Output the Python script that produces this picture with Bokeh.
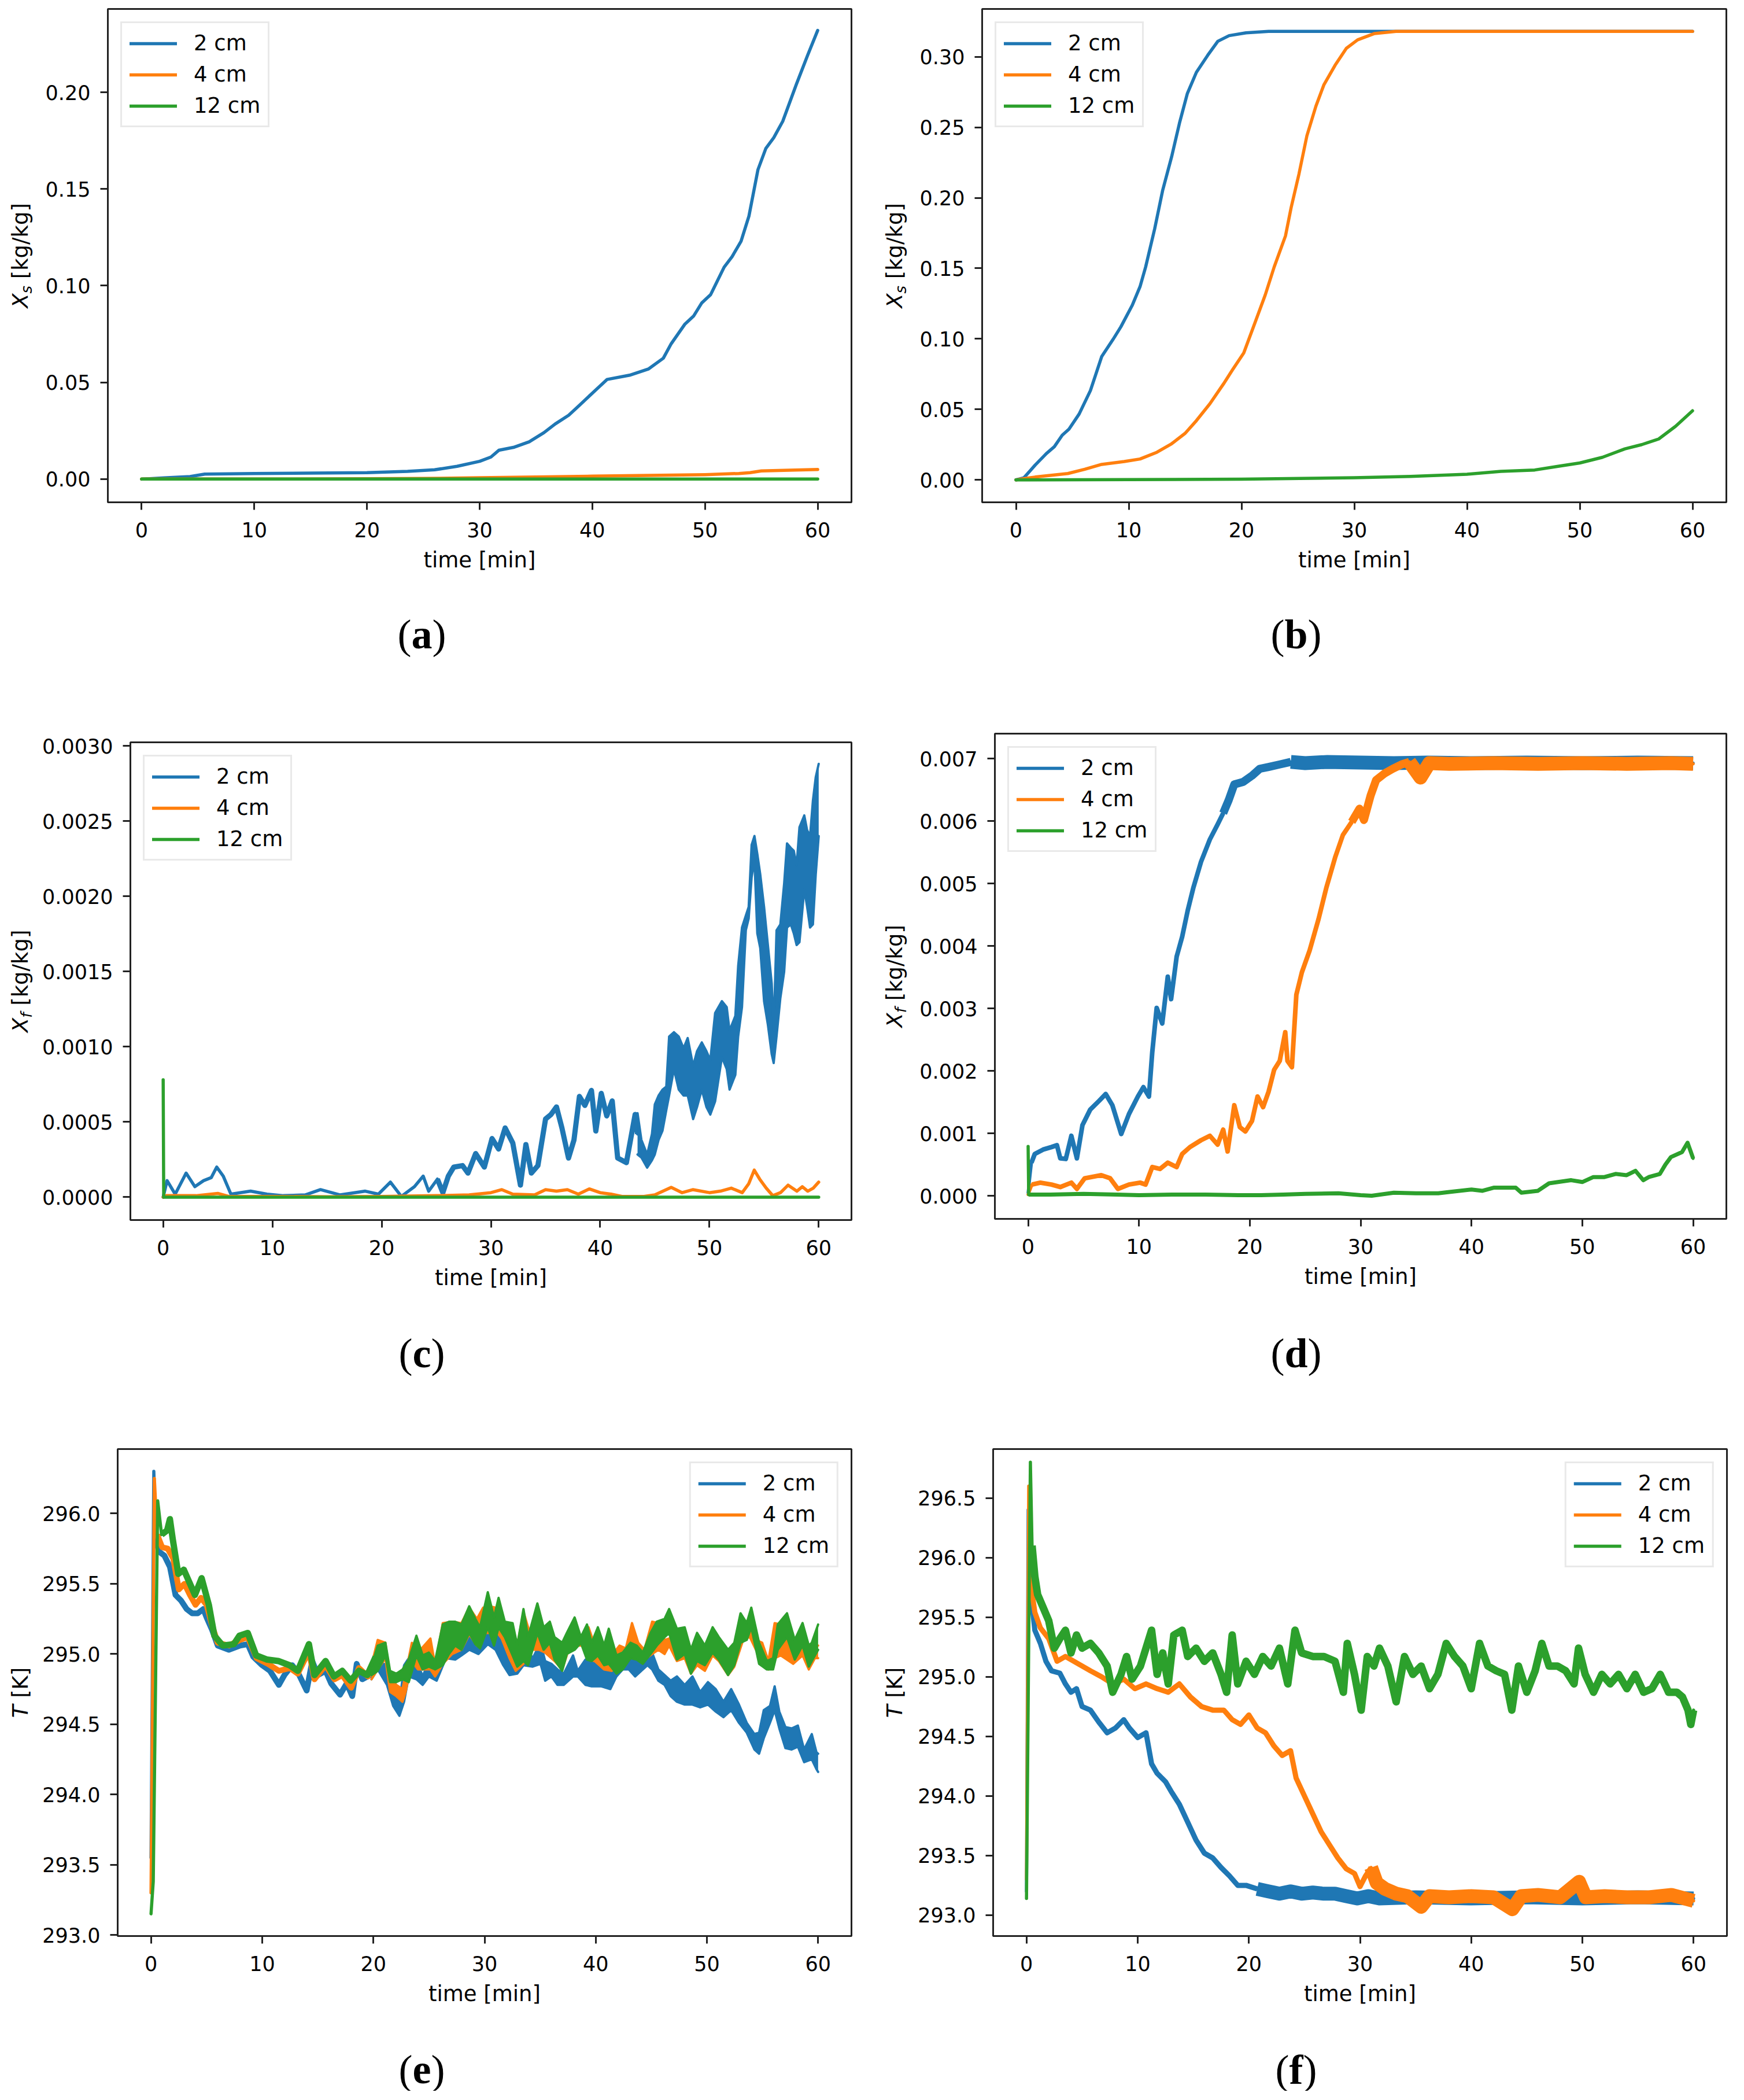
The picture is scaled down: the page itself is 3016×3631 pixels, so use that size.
import math
from bokeh.plotting import figure
from bokeh.layouts import column, row
from bokeh.models import Range1d, FixedTicker, NumeralTickFormatter, Legend, LegendItem
from bokeh.core.properties import value
from bokeh.embed import file_html
from bokeh.resources import INLINE

BLUE, ORANGE, GREEN = "#1f77b4", "#ff7f0e", "#2ca02c"
SERIES_LABELS = ["2 cm", "4 cm", "12 cm"]
TIME_TICKS = [0, 10, 20, 30, 40, 50, 60]

# ---------------- panel (a): X_s, case 1 ----------------
a_t_2cm = [0, 2, 4.3, 5.6, 10, 15, 20, 23.6, 26, 28, 30, 31, 31.7, 33, 34.4, 35.7, 36.7, 37.9, 38.9,
           40.1, 41.3, 43.3, 45, 46.3, 47, 48.2, 49, 49.7, 50.5, 51.7, 52.4, 53.2, 53.9, 54.7, 55.4,
           56.1, 56.9, 58.1, 59.1, 60]
a_x_2cm = [0, 0.0006, 0.0013, 0.0026, 0.0029, 0.0031, 0.0033, 0.004, 0.0048, 0.0066, 0.0092, 0.0114,
           0.0149, 0.0164, 0.0193, 0.024, 0.0285, 0.033, 0.0384, 0.045, 0.0515, 0.0537, 0.057, 0.0625,
           0.070, 0.080, 0.0844, 0.091, 0.0954, 0.1096, 0.115, 0.123, 0.136, 0.160, 0.171, 0.1765,
           0.185, 0.204, 0.219, 0.232]
a_t_4cm = [0, 10, 20, 25, 30, 35, 40, 46, 50, 53, 54, 55, 60]
a_x_4cm = [0, 0, 0.0002, 0.0003, 0.0007, 0.0011, 0.0015, 0.002, 0.0023, 0.0029, 0.0033, 0.0042, 0.005]
a_t_12cm = [0, 20, 40, 60]
a_x_12cm = [0, 0, 0, 0]

# ---------------- panel (b): X_s, case 2 ----------------
b_t_2cm = [0, 0.7, 1.7, 2.7, 3.4, 4.1, 4.7, 5.6, 6.6, 7.6, 8.6, 9.3, 10.3, 11.0, 11.5, 12.3, 13.0,
           13.8, 14.5, 15.2, 16.0, 17.0, 17.9, 18.9, 20.4, 22.4, 30, 40, 50, 60]
b_x_2cm = [0, 0.0015, 0.0105, 0.0187, 0.0235, 0.0317, 0.036, 0.0467, 0.0633, 0.0874, 0.0995, 0.1085,
           0.1236, 0.137, 0.151, 0.178, 0.205, 0.229, 0.253, 0.274, 0.289, 0.301, 0.311, 0.315, 0.317,
           0.318, 0.318, 0.318, 0.318, 0.318]
b_t_4cm = [0, 1.7, 4.6, 6.1, 7.6, 9.6, 11.0, 12.5, 13.8, 15.0, 16.0, 17.2, 18.4, 19.2, 20.2, 21.2,
           22.1, 22.9, 23.9, 24.4, 25.1, 25.8, 26.6, 27.3, 28.3, 29.3, 30.3, 31.8, 33.7, 40, 50, 60]
b_x_4cm = [0, 0.002, 0.0045, 0.0075, 0.011, 0.013, 0.0148, 0.0196, 0.0256, 0.033, 0.042, 0.054, 0.068,
           0.078, 0.090, 0.1115, 0.131, 0.151, 0.173, 0.193, 0.217, 0.244, 0.265, 0.280, 0.294, 0.306,
           0.312, 0.3165, 0.318, 0.318, 0.318, 0.318]
b_t_12cm = [0, 10, 20, 30, 35, 40, 43, 46, 48, 50, 52, 54, 55.5, 57, 58.5, 60]
b_x_12cm = [0, 0.0002, 0.0005, 0.0015, 0.0025, 0.004, 0.006, 0.007, 0.0095, 0.012, 0.016, 0.022,
            0.025, 0.029, 0.038, 0.049]

# ---------------- panel (c): X_f, case 1 ----------------
c_t_2cm = [0, 0.36, 1.1, 2.1, 2.9, 3.7, 4.4, 4.9, 5.5, 6.2, 8, 9.5, 11, 13, 14.4, 16.2, 18.5, 19.7,
           20.8, 21.8, 23, 23.8, 24.3, 25.1, 25.6, 26.1, 26.6, 27.4, 27.9, 28.6, 29.4, 30.1, 30.7,
           31.3, 32.0, 32.7, 33.2, 33.7, 34.3, 35.0, 35.5, 36.0, 36.5, 37.1, 37.6, 38.1, 38.6, 39.2,
           39.6, 40.1, 40.6, 41.1, 41.6, 42.4, 43.2, 43.42]
c_x_2cm = [0.0, 0.00011, 0.00002, 0.00016, 0.00007, 0.00011, 0.00013, 0.00020, 0.00014, 0.00002,
           0.00004, 0.00002, 0.00001, 0.000015, 0.00005, 0.000015, 0.00004, 0.00002, 0.00010, 0.000005,
           0.00007, 0.00014, 0.00004, 0.00012, 0.00003, 0.00014, 0.00020, 0.00021, 0.00016, 0.00029,
           0.00020, 0.00039, 0.00032, 0.00046, 0.00036, 0.00008, 0.00035, 0.00016, 0.00021, 0.00052,
           0.00055, 0.00060, 0.00046, 0.00026, 0.00038, 0.00067, 0.00061, 0.00071, 0.00044, 0.00069,
           0.00054, 0.00064, 0.00026, 0.00023, 0.00055, 0.00042]
# noise envelope of the 2 cm curve after 43 min
c_band_t_2cm = [43.42, 43.77, 44.30, 44.74, 45.00, 45.35, 45.70, 46.05, 46.31, 46.75, 47.19, 47.63,
                48.01, 48.51, 48.86, 49.30, 49.73, 50.08, 50.52, 51.14, 51.58, 51.84, 52.37, 52.63,
                52.98, 53.33, 53.59, 53.86, 54.12, 54.38, 54.65, 55.00, 55.35, 55.70, 55.88, 56.14,
                56.49, 56.84, 57.10, 57.45, 57.72, 57.98, 58.24, 58.68, 58.94, 59.21, 59.47, 59.73, 60.0]
c_band_lo_2cm = [0.000284, 0.000264, 0.000196, 0.000245, 0.000284, 0.000382, 0.000441, 0.000578,
                 0.000676, 0.000852, 0.000715, 0.000676, 0.000676, 0.000519, 0.000598, 0.000715,
                 0.000598, 0.000549, 0.000637, 0.000931, 0.000852, 0.000715, 0.000813, 0.001068,
                 0.001264, 0.001774, 0.001852, 0.002126, 0.002244, 0.001754, 0.001656, 0.001303,
                 0.001146, 0.000950, 0.000892, 0.001068, 0.001323, 0.001499, 0.001793, 0.001813,
                 0.001754, 0.001676, 0.001695, 0.002048, 0.001930, 0.001793, 0.001813, 0.002146, 0.002401]
c_band_hi_2cm = [0.000558, 0.000382, 0.000284, 0.000421, 0.000617, 0.000676, 0.000715, 0.000735,
                 0.001068, 0.001097, 0.001068, 0.000990, 0.001058, 0.000872, 0.000970, 0.001029,
                 0.000970, 0.000911, 0.001225, 0.001303, 0.001264, 0.001107, 0.001205, 0.001538,
                 0.001793, 0.001872, 0.001930, 0.002342, 0.002401, 0.002283, 0.002146, 0.001930,
                 0.001676, 0.001421, 0.001107, 0.001774, 0.001813, 0.002087, 0.002352, 0.002322,
                 0.002303, 0.002205, 0.002460, 0.002538, 0.002440, 0.002401, 0.002636, 0.002793, 0.002881]
c_t_4cm = [0, 0.3, 3, 5, 6, 10, 15, 20, 25, 28, 30, 31, 32, 34, 35, 36, 37, 38, 39, 40, 41, 42, 44,
           45, 46.5, 47.5, 48.5, 50, 51, 52, 53, 53.6, 54.1, 54.6, 55.2, 55.8, 56.5, 57.2, 58, 58.5,
           59, 59.5, 60]
c_x_4cm = [0, 0.00001, 0.00001, 0.000025, 0.000005, 0.000005, 0.000003, 0.000005, 0.00001, 0.000015,
           0.00003, 0.00005, 0.00002, 0.000015, 0.00005, 0.00004, 0.00005, 0.00002, 0.000055, 0.00003,
           0.00002, 0.000005, 0.000005, 0.000015, 0.000065, 0.00003, 0.00005, 0.00003, 0.00004, 0.00006,
           0.00003, 0.00009, 0.00018, 0.00012, 0.00006, 0.00001, 0.00003, 0.00008, 0.00004, 0.00007,
           0.00004, 0.00006, 0.0001]
c_t_12cm = [0, 0.05, 15, 30, 45, 60]
c_x_12cm = [0.00078, 0, 0, 0, 0, 0]

# ---------------- panel (d): X_f, case 2 ----------------
d_t_2cm = [0, 0.3, 0.6, 1.35, 2.1, 2.6, 2.9, 3.4, 3.9, 4.4, 4.9, 5.6, 6.4, 7.0, 7.6, 8.4, 9.1, 9.9,
           10.4, 10.9, 11.2, 11.6, 12.1, 12.6, 12.9, 13.4, 13.9, 14.4, 14.9, 15.6, 16.4, 17.1, 17.6,
           18.1, 18.6, 19.4, 20.2, 20.9, 21.7, 22.7, 23.7, 25, 27, 30, 33, 36, 40, 45, 50, 55, 60]
d_x_2cm = [0.00005, 0.00053, 0.00067, 0.00074, 0.00078, 0.00081, 0.00060, 0.00059, 0.00096, 0.00060,
           0.00113, 0.00138, 0.00152, 0.00163, 0.00145, 0.00099, 0.00131, 0.00159, 0.00174, 0.00159,
           0.00230, 0.00301, 0.00276, 0.00351, 0.00315, 0.00383, 0.00415, 0.00457, 0.00493, 0.00535,
           0.00571, 0.00595, 0.00613, 0.00634, 0.00659, 0.00663, 0.00673, 0.00684, 0.00687, 0.00691,
           0.00695, 0.00693, 0.00695, 0.00694, 0.00693, 0.00694, 0.00693, 0.00694, 0.00693, 0.00694,
           0.00693]
d_t_4cm = [0, 0.35, 1.1, 2.1, 2.9, 3.9, 4.4, 5.1, 6.6, 7.4, 8.1, 9.1, 10.1, 10.6, 11.2, 11.9, 12.6,
           13.4, 13.9, 14.6, 15.6, 16.4, 17.1, 17.6, 18.0, 18.6, 19.1, 19.6, 20.2, 20.7, 21.2, 21.7,
           22.2, 22.7, 23.2, 23.4, 23.8, 24.2, 24.7, 25.4, 26.2, 26.9, 27.7, 28.4, 29.2, 29.9, 30.3,
           30.9, 31.4, 32.2, 32.9, 33.7, 34.4, 35.4, 36.2, 38, 42, 46, 50, 54, 58, 60]
d_x_4cm = [0.00002, 0.00018, 0.00021, 0.00018, 0.00014, 0.00021, 0.00011, 0.00028, 0.00033, 0.00028,
           0.00011, 0.00018, 0.00021, 0.00018, 0.00046, 0.00043, 0.00053, 0.00046, 0.00067, 0.00078,
           0.00089, 0.00096, 0.00082, 0.00106, 0.00071, 0.00145, 0.00110, 0.00103, 0.00120, 0.00159,
           0.00142, 0.00167, 0.00202, 0.00216, 0.00262, 0.00216, 0.00206, 0.00322, 0.00358, 0.00393,
           0.00443, 0.00493, 0.00542, 0.00578, 0.00599, 0.00620, 0.00602, 0.00641, 0.00666, 0.00677,
           0.00684, 0.00691, 0.00695, 0.00670, 0.00693, 0.00692, 0.00693, 0.00692, 0.00693, 0.00692,
           0.00693, 0.00692]
d_t_12cm = [0, 0.05, 2, 5, 8, 10, 13, 16, 19, 21, 23, 25, 28, 30, 31, 33, 35, 37, 38, 40, 41, 42,
            44, 44.5, 46, 47, 49, 50, 51, 52, 53, 54, 54.8, 55.5, 56, 57, 57.5, 58, 59, 59.5, 59.8, 60]
d_x_12cm = [0.00079, 0.00002, 0.00002, 0.00003, 0.00002, 0.00001, 0.00002, 0.00002, 0.00001, 0.00001,
            0.00002, 0.00003, 0.00004, 0.00001, 0.0, 0.00005, 0.00004, 0.00004, 0.00006, 0.0001,
            0.00008, 0.00013, 0.00013, 0.00005, 0.00008, 0.0002, 0.00025, 0.00022, 0.0003, 0.0003,
            0.00035, 0.00033, 0.0004, 0.00025, 0.0003, 0.00035, 0.0005, 0.00062, 0.0007, 0.00085,
            0.0007, 0.0006]

# ---------------- panel (e): T, case 1 ----------------
e_t_2cm = [0, 0.25, 0.45, 0.7, 1.2, 1.7, 2.2, 2.7, 3.2, 3.7, 4.2, 4.7, 5.0, 5.5, 6.0, 7.0, 8.0, 8.7,
           9.2, 10, 10.7, 11.5, 12, 12.7, 13.2, 14, 14.5, 15, 15.7, 16.2, 17, 17.6, 18.1, 18.5, 19,
           19.7, 20.2]
e_T_2cm = [293.55, 296.30, 295.82, 295.73, 295.70, 295.62, 295.42, 295.38, 295.32, 295.29, 295.29,
           295.32, 295.26, 295.17, 295.06, 295.03, 295.06, 295.07, 294.98, 294.92, 294.88, 294.78,
           294.85, 294.92, 294.87, 294.74, 294.95, 294.85, 294.88, 294.79, 294.71, 294.79, 294.70,
           294.93, 294.82, 294.85, 294.90]
e_band_t_2cm = [19.83, 20.39, 21.22, 21.78, 22.34, 22.76, 23.18, 23.87, 24.43, 24.99,
                25.69, 26.52, 27.36, 27.92, 28.62, 29.45, 30.29, 30.99, 31.68, 32.24,
                32.94, 33.50, 34.33, 35.03, 35.45, 36.01, 36.56, 37.12, 37.96, 38.38,
                39.07, 39.63, 40.47, 41.31, 41.86, 42.42, 42.98, 43.54, 44.09, 44.65,
                45.07, 45.63, 46.19, 46.74, 47.30, 48.00, 48.70, 49.39, 50.09, 50.79,
                51.49, 52.18, 52.88, 53.58, 54.27, 54.69, 55.11, 55.67, 56.09, 56.51,
                57.06, 57.62, 58.18, 58.74, 59.43, 59.85, 60.0]
e_band_hi_2cm = [294.89, 294.95, 294.92, 294.80, 294.64, 294.92, 294.97, 294.96, 294.84, 294.95,
                 294.89, 295.04, 295.06, 295.11, 295.15, 295.10, 295.23, 295.19, 295.07, 295.01,
                 294.97, 295.08, 294.97, 295.08, 294.95, 294.93, 294.89, 294.86, 294.99, 294.88,
                 294.96, 294.95, 294.96, 294.95, 294.96, 294.99, 294.97, 294.96, 294.96, 294.99,
                 295.01, 294.89, 294.85, 294.81, 294.84, 294.78, 294.84, 294.73, 294.80, 294.75,
                 294.66, 294.75, 294.64, 294.51, 294.43, 294.44, 294.60, 294.63, 294.77, 294.59,
                 294.48, 294.47, 294.49, 294.32, 294.43, 294.30, 294.29]
e_band_lo_2cm = [294.82, 294.89, 294.78, 294.63, 294.56, 294.66, 294.84, 294.82, 294.78, 294.84,
                 294.81, 294.97, 294.96, 294.99, 295.03, 295.00, 295.07, 295.03, 294.92, 294.85,
                 294.86, 294.92, 294.91, 294.93, 294.81, 294.84, 294.78, 294.78, 294.84, 294.84,
                 294.78, 294.77, 294.77, 294.75, 294.84, 294.89, 294.89, 294.84, 294.88, 294.92,
                 294.89, 294.81, 294.78, 294.70, 294.66, 294.64, 294.64, 294.62, 294.64, 294.59,
                 294.55, 294.60, 294.51, 294.44, 294.32, 294.29, 294.40, 294.51, 294.60, 294.47,
                 294.33, 294.32, 294.34, 294.23, 294.25, 294.18, 294.16]
e_t_4cm = [0, 0.3, 0.55, 1.0, 1.5, 2.0, 2.5, 3.0, 3.5, 4.0, 4.5, 5.0, 5.5, 6.0, 7.0, 8.0, 8.7, 9.5,
           10.5, 11.5, 12.5, 13.2, 14.2, 14.7, 15.7, 16.5, 17.2, 18.0, 18.7, 19.5, 20.2]
e_T_4cm = [293.30, 296.25, 295.85, 295.76, 295.75, 295.68, 295.46, 295.50, 295.42, 295.35, 295.40,
           295.35, 295.20, 295.08, 295.06, 295.10, 295.12, 294.97, 294.93, 294.88, 294.90, 294.86,
           295.02, 294.82, 294.92, 294.82, 294.85, 294.76, 294.90, 294.84, 294.98]
e_band_t_4cm = [19.83, 20.39, 21.08, 21.50, 22.06, 22.62, 22.90, 23.46, 24.01, 25.13,
                25.55, 26.24, 27.08, 27.92, 28.62, 29.31, 29.87, 30.43, 30.99, 31.54,
                32.24, 32.80, 33.50, 33.91, 34.33, 34.89, 35.45, 36.29, 36.98, 37.68,
                38.24, 38.80, 39.35, 39.91, 40.75, 41.44, 42.14, 42.70, 43.26, 43.82,
                44.37, 45.07, 45.63, 46.19, 46.60, 47.30, 48.00, 48.56, 49.11, 49.81,
                50.51, 51.07, 51.90, 52.46, 53.30, 53.86, 54.41, 54.97, 55.53, 56.09,
                56.64, 57.20, 57.76, 58.60, 59.16, 59.71, 60.0]
e_band_hi_4cm = [294.92, 295.10, 295.08, 294.84, 294.78, 294.75, 294.86, 295.08, 295.01, 295.11,
                 294.92, 295.22, 295.23, 295.22, 295.33, 295.25, 295.33, 295.34, 295.33, 295.23,
                 295.21, 295.00, 295.30, 295.19, 295.12, 295.19, 295.17, 295.08, 295.06, 295.15,
                 295.21, 295.08, 295.19, 295.06, 295.03, 294.99, 295.06, 295.04, 295.22, 295.08,
                 295.03, 295.23, 295.22, 295.10, 295.11, 295.15, 295.17, 295.01, 295.14, 295.04,
                 295.17, 295.08, 295.00, 295.06, 295.17, 295.22, 295.10, 295.08, 294.95, 295.22,
                 295.21, 295.15, 295.06, 295.19, 295.03, 295.06, 295.06]
e_band_lo_4cm = [294.82, 294.89, 294.97, 294.73, 294.70, 294.66, 294.73, 294.95, 294.89, 294.89,
                 294.84, 294.93, 295.00, 295.03, 295.14, 295.06, 295.15, 295.15, 295.17, 295.11,
                 294.97, 294.88, 294.93, 295.06, 295.03, 295.03, 295.01, 294.95, 294.89, 295.06,
                 295.06, 295.06, 294.96, 294.95, 294.89, 294.88, 294.97, 294.95, 295.03, 294.97,
                 294.96, 295.00, 295.03, 295.00, 295.06, 294.95, 294.97, 294.86, 294.92, 294.88,
                 294.99, 294.95, 294.85, 294.91, 295.11, 295.12, 295.03, 294.97, 294.89, 294.97,
                 294.99, 294.96, 294.93, 294.99, 294.89, 294.97, 294.97]
e_t_12cm = [0, 0.2, 0.6, 0.95, 1.45, 1.7, 1.95, 2.45, 2.95, 3.45, 3.95, 4.55, 5.2, 5.7, 6.45, 7.45,
            7.95, 8.7, 9.45, 10.45, 11.45, 12.45, 13.2, 14.2, 14.7, 15.7, 16.45, 17.2, 17.95, 18.7,
            19.45, 20.2]
e_T_12cm = [293.15, 293.38, 296.09, 295.85, 295.88, 295.96, 295.82, 295.57, 295.60, 295.51, 295.42,
            295.54, 295.35, 295.13, 295.06, 295.07, 295.13, 295.15, 294.99, 294.96, 294.95, 294.92,
            294.88, 295.07, 294.85, 294.95, 294.84, 294.88, 294.81, 294.88, 294.85, 294.98]
e_band_t_12cm = [19.83, 20.39, 21.08, 21.50, 22.06, 22.62, 23.18, 23.87, 24.43, 24.99,
                 25.55, 26.24, 26.80, 27.36, 27.92, 28.62, 29.17, 29.59, 30.29, 30.85,
                 31.26, 31.82, 32.52, 32.94, 33.50, 33.91, 34.75, 35.31, 35.87, 36.29,
                 36.98, 37.40, 38.10, 38.66, 39.21, 39.63, 40.19, 40.75, 41.17, 41.86,
                 42.42, 43.12, 43.68, 44.23, 44.93, 45.49, 46.19, 46.60, 47.30, 48.00,
                 48.56, 49.11, 49.81, 50.51, 51.07, 51.90, 52.46, 53.02, 53.58, 53.99,
                 54.69, 55.39, 55.95, 56.37, 57.20, 57.90, 58.60, 59.16, 59.43, 60.0]
e_band_hi_12cm = [294.91, 295.06, 295.08, 294.88, 294.86, 294.89, 294.96, 295.13, 294.99, 295.01,
                  294.95, 295.21, 295.23, 295.23, 295.21, 295.34, 295.25, 295.19, 295.44, 295.26,
                  295.40, 295.23, 295.22, 295.06, 295.32, 295.12, 295.36, 295.19, 295.23, 295.12,
                  295.08, 295.15, 295.26, 295.12, 295.21, 295.08, 295.19, 295.06, 295.18, 294.99,
                  295.01, 295.08, 295.06, 295.01, 295.15, 295.23, 295.25, 295.32, 295.18, 295.19,
                  295.03, 295.15, 295.06, 295.19, 295.12, 295.03, 295.08, 295.29, 295.22, 295.33,
                  295.08, 294.95, 294.97, 295.21, 295.29, 295.10, 295.22, 295.06, 295.08, 295.21]
e_band_lo_12cm = [294.85, 294.88, 294.99, 294.80, 294.80, 294.82, 294.80, 294.99, 294.89, 294.91,
                  294.89, 294.92, 295.00, 295.06, 295.03, 295.15, 295.07, 295.04, 295.19, 295.06,
                  295.19, 295.12, 294.99, 294.91, 294.95, 294.92, 295.15, 295.03, 295.08, 294.96,
                  294.88, 295.00, 295.03, 295.08, 294.96, 294.95, 294.99, 294.92, 294.93, 294.86,
                  294.89, 294.97, 294.96, 294.93, 295.00, 295.06, 295.12, 295.15, 294.96, 295.00,
                  294.86, 294.95, 294.92, 295.01, 294.96, 294.85, 294.92, 295.08, 295.10, 295.19,
                  294.93, 294.89, 294.89, 295.03, 295.12, 294.96, 295.06, 294.91, 294.95, 295.03]

# ---------------- panel (f): T, case 2 ----------------
f_t_2cm = [0, 0.15, 0.4, 0.75, 1.25, 1.75, 2.25, 3, 3.5, 4, 4.5, 5, 5.75, 6.5, 7.25, 8, 8.75, 9.25,
           10, 10.75, 11.25, 11.75, 12.5, 13, 13.75, 14.5, 15.25, 16, 16.75, 17.5, 18.25, 19, 19.75,
           20.75, 21.75, 22.75, 23.75, 24.75, 25.75, 26.75, 27.75, 28.75, 29.75, 30.75, 31.75, 35, 40,
           45, 50, 55, 60]
f_T_2cm = [293.20, 296.40, 295.69, 295.39, 295.28, 295.13, 295.05, 295.03, 294.94, 294.87, 294.90,
           294.75, 294.72, 294.62, 294.53, 294.57, 294.64, 294.57, 294.49, 294.53, 294.27, 294.19,
           294.12, 294.04, 293.93, 293.78, 293.63, 293.52, 293.48, 293.40, 293.33, 293.25, 293.25,
           293.22, 293.20, 293.18, 293.20, 293.18, 293.19, 293.18, 293.18, 293.16, 293.14, 293.16,
           293.14, 293.15, 293.14, 293.15, 293.14, 293.15, 293.14]
f_t_4cm = [0, 0.2, 0.4, 0.75, 1.25, 2, 2.75, 3.5, 4.25, 5, 5.75, 6.75, 7.75, 8.75, 9.75, 10.75, 11.75,
           12.75, 13.75, 14.75, 15.75, 16.75, 17.75, 18.5, 19.25, 20, 20.75, 21.5, 22.25, 23, 23.75,
           24.25, 25, 25.75, 26.5, 27.25, 28, 28.75, 29.5, 30, 30.5, 31, 31.5, 32.25, 33.25, 34.25,
           35.5, 36.25, 38, 40, 42, 43.7, 44.5, 46, 48, 49.7, 50.3, 52, 54, 56, 58, 60]
f_T_4cm = [293.30, 296.60, 295.77, 295.54, 295.41, 295.32, 295.13, 295.17, 295.13, 295.09, 295.05,
           295.00, 294.94, 294.98, 294.90, 294.94, 294.90, 294.87, 294.94, 294.83, 294.75, 294.72,
           294.72, 294.64, 294.60, 294.68, 294.57, 294.53, 294.42, 294.34, 294.38, 294.15, 294.00,
           293.85, 293.70, 293.59, 293.48, 293.39, 293.35, 293.24, 293.33, 293.40, 293.27, 293.22,
           293.18, 293.16, 293.07, 293.16, 293.15, 293.16, 293.15, 293.05, 293.16, 293.17, 293.15,
           293.28, 293.15, 293.16, 293.15, 293.15, 293.17, 293.12]
f_t_12cm = [0, 0.25, 0.35, 0.5, 0.75, 1, 1.5, 2, 2.5, 3, 3.5, 4, 4.5, 5, 5.75, 6.5, 7.25, 7.75, 8.5, 9,
            9.5, 10.25, 10.75, 11.25, 11.75, 12.25, 12.75, 13.25, 14, 14.5, 15.25, 16, 16.75, 17.5,
            18, 18.5, 19, 19.75, 20.5, 21.25, 22, 22.75, 23.5, 24.15, 24.75, 25.75, 26.75, 27.75,
            28.5, 28.85, 29.5, 30.1, 30.65, 31.25, 31.75, 32.5, 33.25, 34, 34.75, 35.5, 36.25, 37,
            37.75, 38.5, 39.25, 40, 40.75, 41.5, 42.25, 43, 43.65, 44.25, 45, 45.75, 46.35, 47, 47.75,
            48.5, 49.25, 49.65, 50.25, 51, 51.75, 52.5, 53.25, 54, 54.75, 55.5, 56.25, 57, 57.75,
            58.5, 59, 59.5, 59.75, 60]
f_T_12cm = [293.14, 295.84, 296.80, 296.10, 295.84, 295.69, 295.58, 295.47, 295.24, 295.32, 295.39,
            295.20, 295.35, 295.24, 295.28, 295.20, 295.09, 294.87, 295.02, 295.17, 294.98, 295.09,
            295.24, 295.39, 295.02, 295.20, 294.94, 295.35, 295.39, 295.17, 295.24, 295.13, 295.20,
            295.02, 294.87, 295.35, 294.94, 295.13, 295.02, 295.17, 295.09, 295.24, 294.94, 295.39,
            295.20, 295.17, 295.17, 295.13, 294.87, 295.28, 295.02, 294.72, 295.17, 295.09, 295.24,
            295.09, 294.79, 295.17, 295.02, 295.09, 294.90, 295.02, 295.28, 295.17, 295.09, 294.90,
            295.28, 295.09, 295.05, 295.02, 294.72, 295.09, 294.87, 295.05, 295.28, 295.09, 295.09,
            295.05, 294.94, 295.24, 295.02, 294.87, 295.02, 294.94, 295.02, 294.90, 295.02, 294.87,
            294.90, 295.02, 294.87, 294.87, 294.83, 294.72, 294.60, 294.72]

XS_TICKS_A = [0.0, 0.05, 0.10, 0.15, 0.20]
XS_TICKS_B = [0.0, 0.05, 0.10, 0.15, 0.20, 0.25, 0.30]
XF_TICKS_C = [0.0, 0.0005, 0.0010, 0.0015, 0.0020, 0.0025, 0.0030]
XF_TICKS_D = [0.0, 0.001, 0.002, 0.003, 0.004, 0.005, 0.006, 0.007]
T_TICKS_E = [293.0, 293.5, 294.0, 294.5, 295.0, 295.5, 296.0]
T_TICKS_F = [293.0, 293.5, 294.0, 294.5, 295.0, 295.5, 296.0, 296.5]

LW = 5.5
AX = "#222222"
BBX = 160        # bottom border of each plot (room for ticks and "time [min]")
ROW_H = [1222, 1210, 1183]

# (text, size px, style, offset across the text px, advance px, gap px)
XS_LABEL = [("X", 37, "italic", 0, 25.3, 0), ("s", 26, "italic", 10, 13.5, 11.8),
            ("[kg/kg]", 37, "normal", 0, 131, 0)]
XF_LABEL = [("X", 37, "italic", 0, 25.3, 0), ("f", 26, "italic", 10, 9.5, 11.8),
            ("[kg/kg]", 37, "normal", 0, 131, 0)]
T_LABEL = [("T", 37, "italic", 0, 22.6, 11.8), ("[K]", 37, "normal", 0, 53, 0)]

LETTER_W = {"a": 36, "b": 40, "c": 32, "d": 40, "e": 32, "f": 24}

panels = [
    dict(letter="a", row=0, yw=68, bl=186, fw=1286, br=28, bt=15, fh=853, yr=(-0.012, 0.2431),
         yticks=XS_TICKS_A, fmt="0.00", ylab=XS_LABEL, yoff=154, cap=(543, 224), loc="top_left",
         series=[(a_t_2cm, a_x_2cm, BLUE, [], None), (a_t_4cm, a_x_4cm, ORANGE, [], None),
                 (a_t_12cm, a_x_12cm, GREEN, [], None)]),
    dict(letter="b", row=0, yw=84, bl=198, fw=1287, br=15, bt=15, fh=853, yr=(-0.0159, 0.3339),
         yticks=XS_TICKS_B, fmt="0.00", ylab=XS_LABEL, yoff=154, cap=(543, 224), loc="top_left",
         series=[(b_t_2cm, b_x_2cm, BLUE, [], None), (b_t_4cm, b_x_4cm, ORANGE, [], None),
                 (b_t_12cm, b_x_12cm, GREEN, [], None)]),
    dict(letter="c", row=1, yw=68, bl=225, fw=1247, br=28, bt=61, fh=826, yr=(-0.000152, 0.003024),
         yticks=XF_TICKS_C, fmt="0.0000", ylab=XF_LABEL, yoff=193, cap=(504, 226), loc="top_left",
         series=[(c_t_2cm, c_x_2cm, BLUE, [(25.1, 43.42, 9)], (c_band_t_2cm, c_band_lo_2cm, c_band_hi_2cm)),
                 (c_t_4cm, c_x_4cm, ORANGE, [], None),
                 (c_t_12cm, c_x_12cm, GREEN, [], None)]),
    dict(letter="d", row=1, yw=84, bl=220, fw=1265, br=15, bt=46, fh=839, yr=(-0.00037, 0.007403),
         yticks=XF_TICKS_D, fmt="0.000", ylab=XF_LABEL, yoff=176, cap=(521, 228), loc="top_left",
         series=[(d_t_2cm, d_x_2cm, BLUE, [(0.3, 17.6, 8), (17.6, 23.7, 14), (23.7, 60, 24)], None),
                 (d_t_4cm, d_x_4cm, ORANGE, [(0.35, 29.2, 8), (29.2, 34.4, 14), (34.4, 60, 24)], None),
                 (d_t_12cm, d_x_12cm, GREEN, [(0.05, 60, 7)], None)]),
    dict(letter="e", row=2, yw=68, bl=203, fw=1269, br=28, bt=73, fh=842, yr=(292.992, 296.459),
         yticks=T_TICKS_E, fmt="0.0", ylab=T_LABEL, yoff=171, cap=(526, 227), loc="top_right",
         series=[(e_t_2cm, e_T_2cm, BLUE, [(0.45, 20.2, 10)], (e_band_t_2cm, e_band_lo_2cm, e_band_hi_2cm)),
                 (e_t_4cm, e_T_4cm, ORANGE, [(0.55, 20.2, 10)], (e_band_t_4cm, e_band_lo_4cm, e_band_hi_4cm)),
                 (e_t_12cm, e_T_12cm, GREEN, [(0.95, 20.2, 11)], (e_band_t_12cm, e_band_lo_12cm, e_band_hi_12cm))]),
    dict(letter="f", row=2, yw=84, bl=216, fw=1269, br=15, bt=73, fh=842, yr=(292.825, 296.91),
         yticks=T_TICKS_F, fmt="0.0", ylab=T_LABEL, yoff=172, cap=(525, 227), loc="top_right",
         series=[(f_t_2cm, f_T_2cm, BLUE, [(0.4, 20.75, 9), (20.75, 60, 24)], None),
                 (f_t_4cm, f_T_4cm, ORANGE, [(0.4, 31, 9), (31, 60, 24)], None),
                 (f_t_12cm, f_T_12cm, GREEN, [(0.5, 60, 13)], None)]),
]


def blank_fig(w, h, top=0, bottom=0):
    f = figure(width=w, height=h, x_range=Range1d(0, w), y_range=Range1d(0, h - top - bottom),
               min_border_left=0, min_border_right=0, min_border_top=top, min_border_bottom=bottom,
               x_axis_type=None, y_axis_type=None, output_backend="svg", toolbar_location=None)
    f.outline_line_color = None
    f.background_fill_color = "white"
    f.border_fill_color = "white"
    f.grid.visible = False
    return f


def make_plot(cfg):
    x0, x1 = -3.0, 63.0
    y0, y1 = cfg["yr"]
    p = figure(frame_width=cfg["fw"], frame_height=cfg["fh"],
               min_border_left=cfg["bl"] - cfg["yw"], min_border_right=cfg["br"],
               min_border_top=cfg["bt"], min_border_bottom=BBX,
               x_range=Range1d(x0, x1), y_range=Range1d(y0, y1),
               output_backend="svg", toolbar_location=None)
    p.background_fill_color = "white"
    p.border_fill_color = "white"
    p.grid.visible = False
    p.outline_line_color = AX
    p.outline_line_width = 3
    p.outline_line_alpha = 1.0

    for ax in (p.xaxis[0], p.yaxis[0]):
        ax.axis_line_color = AX
        ax.axis_line_width = 3
        ax.major_tick_line_color = AX
        ax.major_tick_line_width = 3
        ax.major_tick_out = 13
        ax.major_tick_in = 0
        ax.minor_tick_line_color = None
        ax.major_label_text_font = "DejaVu Sans"
        ax.major_label_text_font_size = "35px"
        ax.major_label_text_color = "black"
    p.xaxis.ticker = FixedTicker(ticks=TIME_TICKS)
    p.xaxis.major_label_standoff = 21
    p.xaxis.axis_label = "time [min]"
    p.xaxis.axis_label_text_font = "DejaVu Sans"
    p.xaxis.axis_label_text_font_size = "37px"
    p.xaxis.axis_label_text_font_style = "normal"
    p.xaxis.axis_label_text_color = "black"
    p.xaxis.axis_label_standoff = 15
    p.yaxis.ticker = FixedTicker(ticks=cfg["yticks"])
    p.yaxis.formatter = NumeralTickFormatter(format=cfg["fmt"])
    p.yaxis.major_label_standoff = 17

    renderers = []
    for t, v, color, thick, band in cfg["series"]:
        r = p.line(t, v, line_color=color, line_width=LW, line_join="round", line_cap="round")
        renderers.append(r)
        for (ta, tb, w) in thick:
            idx = [i for i, tt in enumerate(t) if ta <= tt <= tb]
            p.line([t[i] for i in idx], [v[i] for i in idx], line_color=color, line_width=w,
                   line_join="round", line_cap="butt")
        if band is not None:
            bt_, blo, bhi = band
            p.varea(x=bt_, y1=blo, y2=bhi, fill_color=color, fill_alpha=1.0)
            p.line(bt_, blo, line_color=color, line_width=4, line_join="round", line_cap="round")
            p.line(bt_, bhi, line_color=color, line_width=4, line_join="round", line_cap="round")

    legend = Legend(items=[LegendItem(label=lab, renderers=[r]) for lab, r in zip(SERIES_LABELS, renderers)],
                    location=cfg["loc"], label_text_font="DejaVu Sans", label_text_font_size="37px",
                    label_text_color="black", glyph_width=82, glyph_height=20, label_standoff=29,
                    spacing=11, padding=13, margin=22, border_line_color="#d4d4d4",
                    border_line_width=3, background_fill_color="white", background_fill_alpha=0.8)
    p.add_layout(legend)
    return p


def make_ylabel(cfg):
    h = cfg["bt"] + cfg["fh"] + BBX
    # same top/bottom borders as the plot beside it, so the two frames coincide
    f = blank_fig(cfg["yw"], h, top=cfg["bt"], bottom=BBX)
    parts = cfg["ylab"]
    total = sum(pt[4] + pt[5] for pt in parts)
    pos = cfg["fh"] / 2 - total / 2
    xc = cfg["bl"] - cfg["yoff"] + 3
    for text, size, style, drop, width, gap in parts:
        f.text(x=[xc + drop], y=[pos + width / 2], text=[text], angle=math.pi / 2,
               text_align=value("center"), text_baseline=value("middle"),
               text_font=value("DejaVu Sans"), text_font_size=value(f"{size}px"),
               text_font_style=value(style), text_color="black")
        pos += width + gap
    return f


def make_caption(cfg):
    h = ROW_H[cfg["row"]] - (cfg["bt"] + cfg["fh"] + BBX)
    f = blank_fig(1500, h)
    fs = 72
    cx = cfg["bl"] + cfg["cap"][0]
    yc = h - (cfg["cap"][1] - BBX)
    by = yc - 0.25 * fs + 14
    lw = LETTER_W[cfg["letter"]]
    common = dict(text_baseline=value("alphabetic"), text_font=value("Liberation Serif"),
                  text_font_size=value(f"{fs}px"), text_color="black")
    f.text(x=[cx - lw / 2], y=[by], text=["("], text_align=value("right"),
           text_font_style=value("normal"), **common)
    f.text(x=[cx], y=[by], text=[cfg["letter"]], text_align=value("center"),
           text_font_style=value("bold"), **common)
    f.text(x=[cx + lw / 2], y=[by], text=[")"], text_align=value("left"),
           text_font_style=value("normal"), **common)
    return f


def make_panel(cfg):
    return column(row(make_ylabel(cfg), make_plot(cfg)), make_caption(cfg))


cells = [make_panel(c) for c in panels]
layout = column(row(cells[0], cells[1]), row(cells[2], cells[3]), row(cells[4], cells[5]))
open("out.html", "w").write(file_html(layout, INLINE))
